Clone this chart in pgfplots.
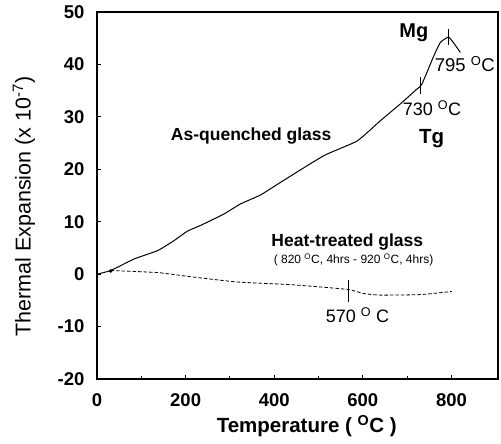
\documentclass[border=0pt]{standalone}
\usepackage{fontspec}
\setmainfont{Liberation Sans}
\usepackage{pgfplots}
\pgfplotsset{compat=1.18}

% superscript "O" used for degrees
\newcommand{\dg}{\textsuperscript{O}}

\begin{document}
\begin{tikzpicture}
\useasboundingbox (-97pt,-65pt) rectangle (404pt,379pt);
\begin{axis}[
  scale only axis,
  width=401pt, height=367pt,
  xmin=0, xmax=905,
  ymin=-20, ymax=50,
  axis line style={line width=1.6pt},
  xtick={0,200,...,800},
  minor xtick={100,300,500,700},
  ytick={-20,-10,...,50},
  tick pos=left,
  tick align=inside,
  major tick length=4pt,
  minor tick length=2.5pt,
  tick style={line width=1pt, black},
  /pgf/number format/assume math mode=true,
  ticklabel style={font=\fontsize{18.5}{18.5}\selectfont\bfseries},
  yticklabel style={xshift=-9pt},
  xticklabel style={yshift=-11pt},
  xlabel={\textbf{Temperature ( \dg C )}},
  ylabel={Thermal Expansion (x 10\textsuperscript{-7})},
  xlabel style={font=\fontsize{20.5}{20.5}\selectfont,
    at={(axis description cs:0.523,0)}, anchor=base, yshift=-54pt},
  ylabel style={font=\fontsize{21.5}{21.5}\selectfont,
    at={(axis description cs:-0.182,0.47)}, anchor=center},
  clip=false,
]
% as-quenched glass
\addplot [black, line width=1pt, smooth, tension=0.3] coordinates {
  (0,0) (31,0.7) (84,2.9) (137,4.5) (174,6.4) (204,8.2) (234,9.3)
  (287,11.5) (324,13.4) (369,15.1) (414,17.5) (512,22.6) (587,25.4)
  (640,29.3) (685,32.5) (722,35.3) (733,36.2) (760,41.6) (775,44.2)
  (793,45.2) (804,44.2) (820,42.3)
};
% heat-treated glass
\addplot [black, line width=0.8pt, dash pattern=on 3.5pt off 2pt, smooth, tension=0.3] coordinates {
  (31,0.7) (137,0.3) (212,-0.5) (317,-1.5) (437,-2.0) (564,-2.9)
  (602,-3.7) (640,-4.0) (730,-3.9) (801,-3.3)
};
% common starting point
\addplot [black, only marks, mark=*, mark size=1.6pt] coordinates {(31,0.6)};
% transition markers
\addplot [black, line width=0.9pt] coordinates {(731,34.4) (731,37.6)};
\addplot [black, line width=0.9pt] coordinates {(793.5,43.8) (793.5,46.8)};
\addplot [black, line width=0.9pt] coordinates {(568,-1.2) (568,-5.3)};

\node[anchor=base, font=\fontsize{20}{20}\selectfont\bfseries] at (axis cs:715,45.2) {Mg};
\node[anchor=base west, inner sep=0pt, font=\fontsize{18.5}{18.5}\selectfont] at (axis cs:762,38.6) {795 \dg C};
\node[anchor=base, font=\fontsize{18}{18}\selectfont] at (axis cs:756,30.3) {730 \dg C};
\node[anchor=base, font=\fontsize{20.5}{20.5}\selectfont\bfseries] at (axis cs:755,24.9) {Tg};
\node[anchor=base, font=\fontsize{17.5}{17.5}\selectfont\bfseries] at (axis cs:348,25.5) {As-quenched glass};
\node[anchor=base, font=\fontsize{17.5}{17.5}\selectfont\bfseries] at (axis cs:565,5.2) {Heat-treated glass};
\node[anchor=base, font=\fontsize{12}{12}\selectfont] at (axis cs:579,2.0) {( 820 \dg C, 4hrs - 920 \dg C, 4hrs)};
\node[anchor=base, font=\fontsize{18}{18}\selectfont] at (axis cs:588,-9.25) {570 \dg\ C};
\end{axis}
\end{tikzpicture}
\end{document}
